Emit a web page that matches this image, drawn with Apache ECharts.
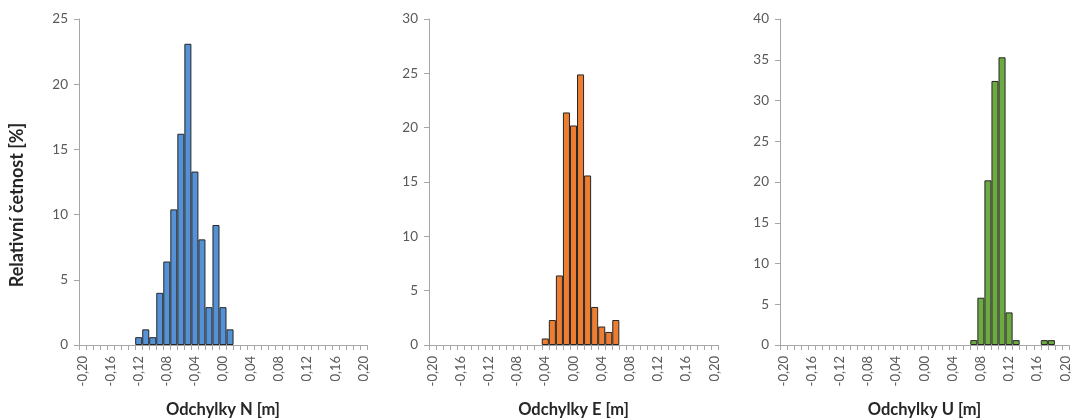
<!DOCTYPE html>
<html>
<head>
<meta charset="utf-8">
<script src="https://cdn.jsdelivr.net/npm/echarts@6/dist/echarts.min.js"></script>
<style>
html,body{margin:0;padding:0;background:#fff;}
#chart{width:1071px;height:419px;}
</style>
</head>
<body>
<div id="chart"></div>
<script>
// Category bins (deviation [m]) shared by all three histograms
var categories = ['-0,20','-0,19','-0,18','-0,17','-0,16','-0,15','-0,14','-0,13','-0,12','-0,11',
  '-0,10','-0,09','-0,08','-0,07','-0,06','-0,05','-0,04','-0,03','-0,02','-0,01',
  '0,00','0,01','0,02','0,03','0,04','0,05','0,06','0,07','0,08','0,09',
  '0,10','0,11','0,12','0,13','0,14','0,15','0,16','0,17','0,18','0,19','0,20'];

// N component: non-empty bins and relative frequency [%]
var nBins   = ['-0,12','-0,11','-0,10','-0,09','-0,08','-0,07','-0,06','-0,05','-0,04','-0,03','-0,02','-0,01','0,00','0,01'];
var nValues = [0.6, 1.2, 0.6, 4.0, 6.4, 10.4, 16.2, 23.1, 13.3, 8.1, 2.9, 9.2, 2.9, 1.2];

// E component
var eBins   = ['-0,04','-0,03','-0,02','-0,01','0,00','0,01','0,02','0,03','0,04','0,05','0,06'];
var eValues = [0.6, 2.3, 6.4, 21.4, 20.2, 24.9, 15.6, 3.5, 1.7, 1.2, 2.3];

// U component
var uBins   = ['0,07','0,08','0,09','0,10','0,11','0,12','0,13','0,17','0,18'];
var uValues = [0.6, 5.8, 20.2, 32.4, 35.3, 4.0, 0.6, 0.6, 0.6];

// Y axis maxima and titles
var yMax = [25, 30, 40];
var xTitles = ['Odchylky N [m]', 'Odchylky E [m]', 'Odchylky U [m]'];
var yTitle = 'Relativní četnost [%]';
var colors = ['#5491D5', '#ED7D31', '#6DAA42'];

var FONT = 'Lato, "Liberation Sans", sans-serif';
var grids = [
  {left: 79, width: 288, top: 19, height: 326, outerBoundsMode: 'none', containLabel: false},
  {left: 429, width: 289, top: 19, height: 326, outerBoundsMode: 'none', containLabel: false},
  {left: 780, width: 289, top: 19, height: 326, outerBoundsMode: 'none', containLabel: false}
];

function pairs(b, v) { return b.map(function (c, i) { return [c, v[i]]; }); }
var seriesData = [pairs(nBins, nValues), pairs(eBins, eValues), pairs(uBins, uValues)];

var xAxes = [], yAxes = [], series = [];
for (var i = 0; i < 3; i++) {
  xAxes.push({
    type: 'category', gridIndex: i, data: categories, boundaryGap: true,
    axisLine: {show: true, lineStyle: {color: '#A6A6A6', width: 1}},
    axisTick: {show: true, interval: 0, length: 5, lineStyle: {color: '#A6A6A6'}},
    axisLabel: {interval: 3, rotate: 90, margin: 11, color: '#595959', fontSize: 13, fontFamily: FONT},
    splitLine: {show: false},
    name: xTitles[i], nameLocation: 'middle', nameGap: 56,
    nameTextStyle: {color: '#262626', fontSize: 16.5, fontWeight: 'bold', fontFamily: FONT}
  });
  yAxes.push({
    type: 'value', gridIndex: i, min: 0, max: yMax[i], interval: 5,
    axisLine: {show: true, lineStyle: {color: '#A6A6A6', width: 1}},
    axisTick: {show: true, length: 5, lineStyle: {color: '#A6A6A6'}},
    axisLabel: {margin: 11, color: '#595959', fontSize: 13.5, fontFamily: FONT},
    splitLine: {show: false}
  });
  series.push({
    type: 'bar', xAxisIndex: i, yAxisIndex: i, data: seriesData[i],
    barCategoryGap: '0%', barGap: '0%',
    itemStyle: {color: colors[i], borderColor: '#262626', borderWidth: 1},
    animation: false
  });
}

var chart = echarts.init(document.getElementById('chart'), null, {renderer: 'canvas'});
chart.setOption({
  animation: false,
  grid: grids,
  xAxis: xAxes,
  yAxis: yAxes,
  series: series,
  graphic: [{
    type: 'text', x: 17, y: 205, rotation: Math.PI / 2,
    style: {text: yTitle, fill: '#262626', font: 'bold 18px ' + FONT, align: 'center', verticalAlign: 'middle'}
  }]
});
</script>
</body>
</html>
